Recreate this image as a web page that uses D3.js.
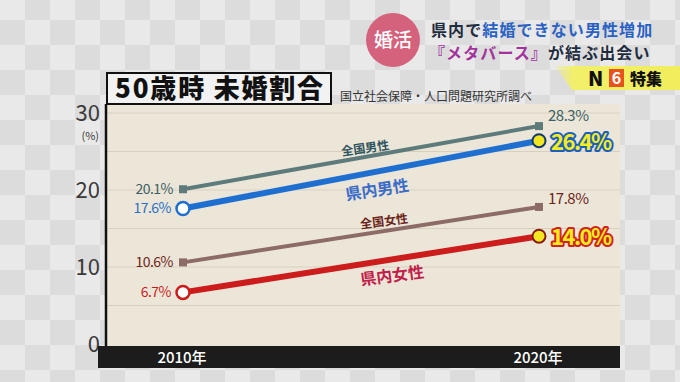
<!DOCTYPE html>
<html><head><meta charset="utf-8">
<script src="https://cdn.jsdelivr.net/npm/d3@7"></script>
<style>
html,body{margin:0;padding:0;background:#e2e2e2;overflow:hidden}
svg{display:block}
text{font-family:"Noto Sans CJK JP","Noto Sans",sans-serif}
</style></head>
<body>
<svg id="c" width="680" height="382"></svg>
<script>
// ---- data ----
const years = [2010, 2020];
const nationalMale = [20.1, 28.3];
const prefMale = [17.6, 26.4];
const nationalFemale = [10.6, 17.8];
const prefFemale = [6.7, 14.0];
const yTicks = [0, 10, 20, 30];
const gridTicks = [5, 10, 15, 20, 25, 30];
const xLabels = ["2010年", "2020年"];
const seriesNames = ["全国男性", "県内男性", "全国女性", "県内女性"];
const chartTitle = "50歳時 未婚割合";
const sourceText = "国立社会保障・人口問題研究所調べ";

const svg = d3.select("#c");
const W = 680, H = 382;

// checker background
const cs = 25;
const bg = svg.append("g");
for (let i = 0; i * cs < W; i++) {
  for (let j = 0; j * cs < H + cs; j++) {
    bg.append("rect").attr("x", i * cs).attr("y", j * cs - 5).attr("width", cs).attr("height", cs)
      .attr("fill", (i + j) % 2 ? "#dcdcdc" : "#e9e9e9");
  }
}

// scales
const x = d3.scaleLinear().domain([2010, 2020]).range([183, 539]);
const y = d3.scaleLinear().domain([0, 30]).range([344, 113]);

// plot area
svg.append("rect").attr("x", 106).attr("y", 104).attr("width", 514).attr("height", 242).attr("fill", "#ece6d8");
svg.append("g").selectAll("line").data(gridTicks).join("line")
  .attr("x1", 106).attr("x2", 620).attr("y1", d => y(d)).attr("y2", d => y(d))
  .attr("stroke", "#d9cfbd").attr("stroke-width", 1.2);

// y axis line
svg.append("line").attr("x1", 106).attr("x2", 106).attr("y1", 104).attr("y2", 346).attr("stroke", "#111").attr("stroke-width", 2.5);

// y tick labels
svg.append("g").selectAll("text").data(yTicks).join("text")
  .attr("x", 100).attr("y", d => y(d) + 8).attr("text-anchor", "end")
  .attr("font-size", 22).attr("fill", "#3a3a3a").attr("font-family", "Noto Sans").attr("font-weight", 400)
  .text(d => d);
svg.append("text").attr("x", 99).attr("y", 140).attr("text-anchor", "end").attr("font-size", 11)
  .attr("fill", "#3a3a3a").text("(%)");

// x bar
svg.append("rect").attr("x", 98).attr("y", 346).attr("width", 522).attr("height", 22).attr("fill", "#1c1c1c");
svg.append("g").selectAll("text").data(years).join("text")
  .attr("x", d => x(d) - 1).attr("y", 363).attr("text-anchor", "middle")
  .attr("font-size", 15).attr("font-weight", 500).attr("fill", "#fff")
  .text((d, i) => xLabels[i]);

// title box
svg.append("rect").attr("x", 107).attr("y", 73).attr("width", 224).attr("height", 31)
  .attr("fill", "#f2f2f2").attr("stroke", "#111").attr("stroke-width", 2);
svg.append("text").attr("x", 220).attr("y", 98).attr("text-anchor", "middle")
  .attr("font-size", 26).attr("font-weight", 900).attr("fill", "#111").attr("letter-spacing", 1.8)
  .text(chartTitle);
svg.append("text").attr("x", 340).attr("y", 101).attr("font-size", 12).attr("fill", "#333").text(sourceText);

// series
const series = [
  {v: nationalMale, color: "#5d7b7b", w: 4, mk: "sq", name: seriesNames[0], lc: "#3d5f66", nameColor: "#2f5560", nfs: 12, nx: 365, noff: -10, ry: -5},
  {v: prefMale, color: "#1f6fd0", w: 6, mk: "ci", name: seriesNames[1], lc: "#2a6fc4", nameColor: "#3a6cc8", nfs: 16, nx: 377, noff: 17, hl: "#1a5ec0", hc: "#123a6a"},
  {v: nationalFemale, color: "#8d6b66", w: 4, mk: "sq", name: seriesNames[2], lc: "#6e2418", nameColor: "#6a2418", nfs: 12, nx: 384, noff: -11, ry: -3},
  {v: prefFemale, color: "#cc1c1c", w: 6, mk: "ci", name: seriesNames[3], lc: "#c81e1e", nameColor: "#c0204a", nfs: 16, nx: 392, noff: 15, hl: "#d42020", hc: "#8a1a10"}
];
const line = d3.line().x((d, i) => x(years[i])).y(d => y(d));

series.forEach(s => {
  const g = svg.append("g");
  g.append("path").datum(s.v).attr("d", line).attr("fill", "none").attr("stroke", s.color)
    .attr("stroke-width", s.w).attr("stroke-linecap", "butt");
  if (s.mk === "sq") {
    g.selectAll("rect.m").data(s.v).join("rect").attr("class", "m")
      .attr("x", (d, i) => x(years[i]) - 4).attr("y", d => y(d) - 4).attr("width", 8).attr("height", 8).attr("fill", s.color);
  } else {
    g.append("circle").attr("cx", x(years[0])).attr("cy", y(s.v[0])).attr("r", 6.5)
      .attr("fill", "#fff").attr("stroke", s.color).attr("stroke-width", 2.5);
    g.append("circle").attr("cx", x(years[1])).attr("cy", y(s.v[1])).attr("r", 6.5)
      .attr("fill", "#f2e622").attr("stroke", s.hc).attr("stroke-width", 2);
  }
  // left value label
  g.append("text").attr("x", x(years[0]) - (s.mk === "ci" ? 12 : 10)).attr("y", y(s.v[0]) + 5)
    .attr("text-anchor", "end").attr("font-size", 14).attr("fill", s.lc).attr("font-family", "DejaVu Sans")
    .attr("letter-spacing", -0.5).text(s.v[0].toFixed(1) + "%");
  // right value label
  if (s.mk === "sq") {
    g.append("text").attr("x", x(years[1]) + 9).attr("y", y(s.v[1]) + s.ry)
      .attr("font-size", 15).attr("fill", s.lc).attr("font-family", "DejaVu Sans")
      .attr("letter-spacing", -0.5).text(s.v[1].toFixed(1) + "%");
  } else {
    g.append("text").attr("x", x(years[1]) + 12).attr("y", y(s.v[1]) + 9)
      .attr("font-size", 22).attr("font-weight", 700).attr("fill", "#f4ec1e")
      .attr("stroke", s.hl).attr("stroke-width", 4).attr("paint-order", "stroke").attr("stroke-linejoin", "round")
      .attr("font-family", "DejaVu Sans").attr("letter-spacing", -1.5)
      .text(s.v[1].toFixed(1) + "%");
  }
  // series name along line
  const t = (s.nx - x(years[0])) / (x(years[1]) - x(years[0]));
  const ly = y(s.v[0]) + t * (y(s.v[1]) - y(s.v[0])) + s.noff;
  const ang = Math.atan2(y(s.v[1]) - y(s.v[0]), x(years[1]) - x(years[0])) * 180 / Math.PI * 0.8;
  g.append("text").attr("transform", `translate(${s.nx},${ly}) rotate(${ang})`)
    .attr("text-anchor", "middle").attr("dominant-baseline", "central")
    .attr("font-size", s.nfs).attr("font-weight", 700).attr("fill", s.nameColor).text(s.name);
});

// header
svg.append("circle").attr("cx", 393).attr("cy", 40).attr("r", 27).attr("fill", "#d5627c");
svg.append("text").attr("x", 393).attr("y", 47).attr("text-anchor", "middle").attr("font-size", 19)
  .attr("font-weight", 500).attr("fill", "#fff").text("婚活");
const h1 = svg.append("text").attr("x", 431).attr("y", 36).attr("font-size", 16).attr("font-weight", 700).attr("letter-spacing", 1.1);
h1.append("tspan").attr("fill", "#1e2c3e").text("県内で");
h1.append("tspan").attr("fill", "#2a62c4").text("結婚できない男性増加");
const h2 = svg.append("text").attr("x", 429).attr("y", 59).attr("font-size", 16).attr("font-weight", 700).attr("letter-spacing", 1.1);
h2.append("tspan").attr("fill", "#a2329c").text("『メタバース』");
h2.append("tspan").attr("fill", "#1e2c3e").text("が結ぶ出会い");

// N6 banner
const grad = svg.append("defs").append("linearGradient").attr("id", "yg").attr("x1", 0).attr("x2", 1);
grad.append("stop").attr("offset", 0).attr("stop-color", "#f2f06a").attr("stop-opacity", 0.2);
grad.append("stop").attr("offset", 0.15).attr("stop-color", "#f2f06a").attr("stop-opacity", 1);
grad.append("stop").attr("offset", 1).attr("stop-color", "#f0ee5c");
svg.append("path").attr("d", "M555,66 L680,66 L680,90 L572,90 Z").attr("fill", "url(#yg)");
svg.append("text").attr("x", 588).attr("y", 86).attr("font-size", 20).attr("font-weight", 900).attr("fill", "#111")
  .attr("font-family", "DejaVu Sans").text("N");
svg.append("rect").attr("x", 609).attr("y", 69).attr("width", 15).attr("height", 18).attr("fill", "#e8521c");
svg.append("text").attr("x", 616.5).attr("y", 84).attr("text-anchor", "middle").attr("font-size", 16).attr("font-weight", 700)
  .attr("fill", "#fff").attr("font-family", "DejaVu Sans").text("6");
svg.append("text").attr("x", 630).attr("y", 85).attr("font-size", 16).attr("font-weight", 900).attr("fill", "#111").text("特集");
</script>
</body></html>
